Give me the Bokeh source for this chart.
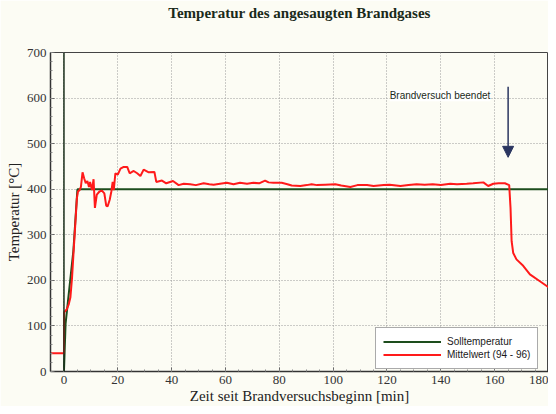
from bokeh.plotting import figure
from bokeh.models import (Range1d, SingleIntervalTicker, Legend, LegendItem, Label,
                          Span, Arrow, NormalHead, Title)
from bokeh.embed import file_html
from bokeh.resources import INLINE

title = "Temperatur des angesaugten Brandgases"
x_label = "Zeit seit Brandversuchsbeginn [min]"
y_label = "Temperatur [°C]"
series_names = ["Solltemperatur", "Mittelwert (94 - 96)"]
note = "Brandversuch beendet"

soll_x = [0, 0.6, 3.5, 5, 180]
soll_y = [0, 105, 265, 400, 400]

mittel_x = [-5, 0, 0.05, 1, 1.8, 2.4, 3.0, 3.6, 4.2, 4.8,
            5.2, 5.8, 6.3, 6.9, 7.5, 8.1, 8.7, 9.3, 9.7, 10.4,
            11.0, 11.5, 12.2, 13.2, 14.1, 15.0, 15.7, 16.2, 17.0, 17.6,
            18.1, 18.5, 19.1, 20.0, 21.0, 22.2, 23.5, 24.4, 25.9, 27.2,
            28.4, 29.6, 31.5, 33.6, 34.3, 36.4, 38.0, 40.5, 42.6, 44.5,
            46.9, 49, 51.9, 54, 55.6, 58, 60.5, 63, 65.4, 68,
            70.4, 72.5, 74.7, 76, 77.8, 80.9, 83, 84.6, 87.8, 90.2,
            92, 94, 97, 100.8, 103, 106.4, 109, 112.6, 115, 118.8,
            121, 125, 128, 131, 134, 137, 140, 143.5, 146, 149.6,
            152, 155.8, 157.6, 159.5, 161.5, 163.8, 165.4, 165.9, 166.3, 166.9,
            168.1, 170.6, 173.1, 176.8, 180]
mittel_y = [40, 40, 130, 136, 148, 163, 206, 265, 322, 380,
            395, 398, 405, 437, 424, 413, 418, 405, 416, 398,
            422, 359, 388, 395, 397, 391, 364, 362, 377, 395,
            416, 398, 435, 432, 445, 449, 449, 435, 440, 435,
            429, 443, 437, 438, 416, 419, 413, 418, 409, 412,
            411, 409, 413, 411, 410, 412, 414, 411, 414, 412,
            414, 413, 419, 415, 414, 414, 411, 408, 407, 409,
            411, 409, 410, 411, 408, 405, 409, 409, 407, 409,
            410, 407, 409, 411, 410, 411, 409, 412, 411, 412,
            413, 415, 407, 412, 413, 413, 409, 358, 286, 260,
            246, 232, 213, 198, 185]

x_start, x_end, x_step = -5, 180, 20
y_start, y_end, y_step = 0, 700, 100
end_time = 165
arrow_top, arrow_bottom = 625, 470
note_x, note_y = 121, 605

bg = "#fcfcf4"
serif = "Liberation Serif"
sans = "Liberation Sans"

p = figure(width=548, height=406, output_backend="svg", toolbar_location=None, title=None,
           x_range=Range1d(x_start, x_end), y_range=Range1d(y_start, y_end),
           min_border_left=50, min_border_right=0, min_border_top=52, min_border_bottom=0)
p.background_fill_color = bg
p.border_fill_color = bg
p.outline_line_color = "#444444"
p.outline_line_width = 1

# spacer between frame and title, then the title itself (outermost)
p.add_layout(Title(text=" ", text_font_size="26px", standoff=0), "above")
p.add_layout(Title(text=title, align="center", text_font=serif, text_font_size="15px",
                   text_font_style="bold", text_color="#1a2a1a", standoff=0), "above")

p.xaxis.ticker = SingleIntervalTicker(interval=x_step, num_minor_ticks=4)
p.yaxis.ticker = SingleIntervalTicker(interval=y_step, num_minor_ticks=5)
for ax in (p.xaxis, p.yaxis):
    ax.major_label_text_font = serif
    ax.major_label_text_font_size = "13px"
    ax.major_label_text_color = "#333333"
    ax.axis_label_text_font = serif
    ax.axis_label_text_font_size = "15px"
    ax.axis_label_text_font_style = "normal"
    ax.axis_label_text_color = "#222222"
    ax.axis_line_color = "#333333"
    ax.axis_line_width = 1.5
    ax.major_tick_in = 4
    ax.major_tick_out = 0
    ax.minor_tick_in = 2
    ax.minor_tick_out = 0
    ax.major_tick_line_color = "#666666"
    ax.minor_tick_line_color = "#888888"
p.xaxis.major_label_standoff = 4
p.xaxis.axis_label_standoff = 1
p.yaxis.major_label_standoff = 4
p.yaxis.axis_label_standoff = 2
p.xaxis.axis_label = x_label
p.yaxis.axis_label = y_label

p.grid.grid_line_color = "#9a9a9a"
p.grid.grid_line_dash = "1 2"
p.grid.grid_line_width = 1

p.add_layout(Span(location=0, dimension="height", line_color="#1c301c", line_width=1.5))

r_soll = p.line(soll_x, soll_y, line_color="#1d4d1d", line_width=2)
r_mittel = p.line(mittel_x, mittel_y, line_color="#ff1a1a", line_width=2)

p.add_layout(Label(x=note_x, y=note_y, text=note, text_font=sans, text_font_size="10px",
                   text_color="#1a2a1a", text_baseline="middle",
                   background_fill_color="#ffffff", background_fill_alpha=1.0))

p.add_layout(Arrow(x_start=end_time, y_start=arrow_top, x_end=end_time, y_end=arrow_bottom,
                   line_color="#2a3560", line_width=1.5,
                   end=NormalHead(size=11, fill_color="#2a3560", line_color="#2a3560")))

legend = Legend(items=[LegendItem(label=series_names[0], renderers=[r_soll]),
                       LegendItem(label=series_names[1], renderers=[r_mittel])],
                location=(325, 2))
legend.label_text_font = sans
legend.label_text_font_size = "10px"
legend.label_text_color = "#1a1a1a"
legend.glyph_width = 58
legend.glyph_height = 13
legend.label_height = 13
legend.spacing = 0
legend.padding = 7
legend.margin = 0
legend.label_standoff = 6
legend.border_line_color = "#555555"
legend.border_line_width = 1
legend.background_fill_color = "#ffffff"
legend.background_fill_alpha = 1.0
p.add_layout(legend)

open("out.html", "w").write(file_html(p, INLINE))
